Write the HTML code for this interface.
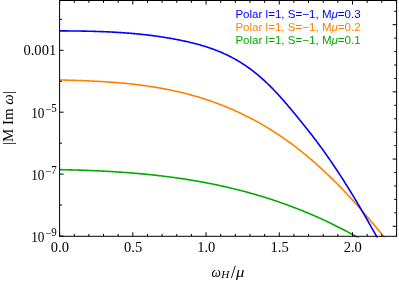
<!DOCTYPE html><html><head><meta charset="utf-8"><style>html,body{margin:0;padding:0;background:#fff}body{width:399px;height:281px;overflow:hidden;position:relative}</style></head><body><svg width="399" height="281" viewBox="0 0 399 281" style="position:absolute;left:0;top:0;will-change:transform">
<defs><clipPath id="c"><rect x="59.6" y="0.5" width="337.0" height="237.0"/></clipPath></defs>
<g clip-path="url(#c)" fill="none" stroke-width="1.6" stroke-linejoin="round">
<path d="M59.6 169.62 L60.6 169.64 L61.6 169.66 L62.6 169.68 L63.6 169.70 L64.6 169.73 L65.6 169.75 L66.6 169.77 L67.6 169.80 L68.6 169.82 L69.6 169.85 L70.6 169.87 L71.6 169.90 L72.6 169.93 L73.6 169.95 L74.6 169.98 L75.6 170.01 L76.6 170.04 L77.6 170.07 L78.6 170.10 L79.6 170.13 L80.6 170.17 L81.6 170.20 L82.6 170.23 L83.6 170.27 L84.6 170.31 L85.6 170.34 L86.6 170.38 L87.6 170.42 L88.6 170.45 L89.6 170.49 L90.6 170.53 L91.6 170.57 L92.6 170.62 L93.6 170.66 L94.6 170.70 L95.6 170.75 L96.6 170.79 L97.6 170.84 L98.6 170.88 L99.6 170.93 L100.6 170.98 L101.6 171.03 L102.6 171.08 L103.6 171.13 L104.6 171.18 L105.6 171.24 L106.6 171.29 L107.6 171.34 L108.6 171.40 L109.6 171.46 L110.6 171.51 L111.6 171.57 L112.6 171.63 L113.6 171.69 L114.6 171.75 L115.6 171.82 L116.6 171.88 L117.6 171.95 L118.6 172.01 L119.6 172.08 L120.6 172.15 L121.6 172.21 L122.6 172.28 L123.6 172.36 L124.6 172.43 L125.6 172.50 L126.6 172.57 L127.6 172.65 L128.6 172.73 L129.6 172.80 L130.6 172.88 L131.6 172.96 L132.6 173.04 L133.6 173.13 L134.6 173.21 L135.6 173.29 L136.6 173.38 L137.6 173.47 L138.6 173.55 L139.6 173.64 L140.6 173.73 L141.6 173.83 L142.6 173.92 L143.6 174.01 L144.6 174.11 L145.6 174.21 L146.6 174.30 L147.6 174.40 L148.6 174.50 L149.6 174.61 L150.6 174.71 L151.6 174.81 L152.6 174.92 L153.6 175.03 L154.6 175.14 L155.6 175.25 L156.6 175.36 L157.6 175.47 L158.6 175.58 L159.6 175.70 L160.6 175.82 L161.6 175.93 L162.6 176.05 L163.6 176.18 L164.6 176.30 L165.6 176.42 L166.6 176.55 L167.6 176.67 L168.6 176.80 L169.6 176.93 L170.6 177.06 L171.6 177.20 L172.6 177.33 L173.6 177.47 L174.6 177.60 L175.6 177.74 L176.6 177.88 L177.6 178.02 L178.6 178.17 L179.6 178.31 L180.6 178.46 L181.6 178.61 L182.6 178.76 L183.6 178.91 L184.6 179.06 L185.6 179.22 L186.6 179.37 L187.6 179.53 L188.6 179.69 L189.6 179.85 L190.6 180.01 L191.6 180.18 L192.6 180.34 L193.6 180.51 L194.6 180.68 L195.6 180.85 L196.6 181.03 L197.6 181.20 L198.6 181.38 L199.6 181.56 L200.6 181.74 L201.6 181.92 L202.6 182.10 L203.6 182.29 L204.6 182.47 L205.6 182.66 L206.6 182.85 L207.6 183.04 L208.6 183.24 L209.6 183.43 L210.6 183.63 L211.6 183.83 L212.6 184.03 L213.6 184.24 L214.6 184.44 L215.6 184.65 L216.6 184.86 L217.6 185.07 L218.6 185.28 L219.6 185.50 L220.6 185.71 L221.6 185.93 L222.6 186.15 L223.6 186.37 L224.6 186.60 L225.6 186.82 L226.6 187.05 L227.6 187.28 L228.6 187.52 L229.6 187.75 L230.6 187.99 L231.6 188.22 L232.6 188.46 L233.6 188.71 L234.6 188.95 L235.6 189.20 L236.6 189.45 L237.6 189.70 L238.6 189.95 L239.6 190.20 L240.6 190.46 L241.6 190.72 L242.6 190.98 L243.6 191.24 L244.6 191.51 L245.6 191.78 L246.6 192.05 L247.6 192.32 L248.6 192.59 L249.6 192.87 L250.6 193.15 L251.6 193.43 L252.6 193.71 L253.6 193.99 L254.6 194.28 L255.6 194.57 L256.6 194.86 L257.6 195.16 L258.6 195.45 L259.6 195.75 L260.6 196.05 L261.6 196.35 L262.6 196.66 L263.6 196.97 L264.6 197.28 L265.6 197.59 L266.6 197.90 L267.6 198.22 L268.6 198.54 L269.6 198.86 L270.6 199.18 L271.6 199.51 L272.6 199.84 L273.6 200.17 L274.6 200.50 L275.6 200.84 L276.6 201.17 L277.6 201.51 L278.6 201.86 L279.6 202.20 L280.6 202.55 L281.6 202.90 L282.6 203.25 L283.6 203.61 L284.6 203.97 L285.6 204.33 L286.6 204.69 L287.6 205.05 L288.6 205.42 L289.6 205.79 L290.6 206.16 L291.6 206.54 L292.6 206.92 L293.6 207.30 L294.6 207.68 L295.6 208.06 L296.6 208.45 L297.6 208.84 L298.6 209.24 L299.6 209.63 L300.6 210.03 L301.6 210.43 L302.6 210.84 L303.6 211.24 L304.6 211.65 L305.6 212.06 L306.6 212.48 L307.6 212.89 L308.6 213.31 L309.6 213.74 L310.6 214.16 L311.6 214.59 L312.6 215.02 L313.6 215.45 L314.6 215.89 L315.6 216.33 L316.6 216.77 L317.6 217.21 L318.6 217.66 L319.6 218.11 L320.6 218.56 L321.6 219.02 L322.6 219.47 L323.6 219.93 L324.6 220.40 L325.6 220.87 L326.6 221.33 L327.6 221.81 L328.6 222.28 L329.6 222.76 L330.6 223.24 L331.6 223.72 L332.6 224.21 L333.6 224.70 L334.6 225.19 L335.6 225.69 L336.6 226.19 L337.6 226.69 L338.6 227.19 L339.6 227.70 L340.6 228.21 L341.6 228.72 L342.6 229.24 L343.6 229.76 L344.6 230.28 L345.6 230.81 L346.6 231.33 L347.6 231.86 L348.6 232.40 L349.6 232.94 L350.6 233.48 L351.6 234.02 L352.6 234.57 L353.6 235.12 L354.6 235.67 L355.6 236.22 L356.6 236.78 L357.6 237.34 L358.6 237.91 L359.6 238.48 L360.6 239.05 L361.6 239.62 L362.6 240.20 L363.6 240.78 L364.6 241.36 L365.6 241.95 L366.6 242.54" stroke="#00aa00"/>
<path d="M59.6 79.95 L60.6 79.97 L61.6 80.00 L62.6 80.02 L63.6 80.05 L64.6 80.07 L65.6 80.10 L66.6 80.13 L67.6 80.16 L68.6 80.18 L69.6 80.21 L70.6 80.24 L71.6 80.27 L72.6 80.30 L73.6 80.34 L74.6 80.37 L75.6 80.40 L76.6 80.43 L77.6 80.47 L78.6 80.50 L79.6 80.54 L80.6 80.57 L81.6 80.61 L82.6 80.65 L83.6 80.69 L84.6 80.73 L85.6 80.77 L86.6 80.81 L87.6 80.85 L88.6 80.90 L89.6 80.94 L90.6 80.99 L91.6 81.03 L92.6 81.08 L93.6 81.13 L94.6 81.18 L95.6 81.23 L96.6 81.28 L97.6 81.34 L98.6 81.39 L99.6 81.45 L100.6 81.50 L101.6 81.56 L102.6 81.62 L103.6 81.68 L104.6 81.74 L105.6 81.81 L106.6 81.87 L107.6 81.94 L108.6 82.01 L109.6 82.08 L110.6 82.15 L111.6 82.22 L112.6 82.30 L113.6 82.37 L114.6 82.45 L115.6 82.53 L116.6 82.61 L117.6 82.69 L118.6 82.78 L119.6 82.86 L120.6 82.95 L121.6 83.04 L122.6 83.13 L123.6 83.22 L124.6 83.32 L125.6 83.42 L126.6 83.51 L127.6 83.61 L128.6 83.72 L129.6 83.82 L130.6 83.93 L131.6 84.04 L132.6 84.15 L133.6 84.26 L134.6 84.37 L135.6 84.49 L136.6 84.61 L137.6 84.73 L138.6 84.85 L139.6 84.98 L140.6 85.11 L141.6 85.24 L142.6 85.37 L143.6 85.50 L144.6 85.64 L145.6 85.78 L146.6 85.92 L147.6 86.06 L148.6 86.21 L149.6 86.36 L150.6 86.51 L151.6 86.66 L152.6 86.82 L153.6 86.98 L154.6 87.14 L155.6 87.31 L156.6 87.47 L157.6 87.64 L158.6 87.81 L159.6 87.99 L160.6 88.16 L161.6 88.34 L162.6 88.53 L163.6 88.71 L164.6 88.90 L165.6 89.09 L166.6 89.29 L167.6 89.48 L168.6 89.68 L169.6 89.89 L170.6 90.09 L171.6 90.30 L172.6 90.51 L173.6 90.73 L174.6 90.94 L175.6 91.16 L176.6 91.39 L177.6 91.61 L178.6 91.84 L179.6 92.08 L180.6 92.31 L181.6 92.55 L182.6 92.80 L183.6 93.04 L184.6 93.29 L185.6 93.55 L186.6 93.80 L187.6 94.06 L188.6 94.32 L189.6 94.59 L190.6 94.86 L191.6 95.13 L192.6 95.41 L193.6 95.69 L194.6 95.97 L195.6 96.26 L196.6 96.55 L197.6 96.84 L198.6 97.14 L199.6 97.44 L200.6 97.75 L201.6 98.06 L202.6 98.37 L203.6 98.69 L204.6 99.01 L205.6 99.33 L206.6 99.66 L207.6 99.99 L208.6 100.32 L209.6 100.66 L210.6 101.01 L211.6 101.35 L212.6 101.70 L213.6 102.06 L214.6 102.42 L215.6 102.78 L216.6 103.15 L217.6 103.52 L218.6 103.89 L219.6 104.27 L220.6 104.66 L221.6 105.04 L222.6 105.44 L223.6 105.83 L224.6 106.23 L225.6 106.64 L226.6 107.05 L227.6 107.46 L228.6 107.88 L229.6 108.30 L230.6 108.72 L231.6 109.15 L232.6 109.59 L233.6 110.03 L234.6 110.47 L235.6 110.92 L236.6 111.37 L237.6 111.83 L238.6 112.29 L239.6 112.76 L240.6 113.23 L241.6 113.71 L242.6 114.19 L243.6 114.67 L244.6 115.16 L245.6 115.66 L246.6 116.16 L247.6 116.66 L248.6 117.17 L249.6 117.68 L250.6 118.20 L251.6 118.73 L252.6 119.26 L253.6 119.79 L254.6 120.33 L255.6 120.87 L256.6 121.42 L257.6 121.97 L258.6 122.53 L259.6 123.10 L260.6 123.66 L261.6 124.24 L262.6 124.82 L263.6 125.40 L264.6 125.99 L265.6 126.58 L266.6 127.18 L267.6 127.79 L268.6 128.40 L269.6 129.02 L270.6 129.64 L271.6 130.26 L272.6 130.89 L273.6 131.53 L274.6 132.17 L275.6 132.82 L276.6 133.48 L277.6 134.14 L278.6 134.80 L279.6 135.47 L280.6 136.15 L281.6 136.83 L282.6 137.51 L283.6 138.21 L284.6 138.90 L285.6 139.61 L286.6 140.32 L287.6 141.03 L288.6 141.76 L289.6 142.48 L290.6 143.21 L291.6 143.95 L292.6 144.70 L293.6 145.45 L294.6 146.20 L295.6 146.97 L296.6 147.74 L297.6 148.51 L298.6 149.29 L299.6 150.08 L300.6 150.87 L301.6 151.67 L302.6 152.47 L303.6 153.28 L304.6 154.09 L305.6 154.92 L306.6 155.74 L307.6 156.58 L308.6 157.42 L309.6 158.26 L310.6 159.11 L311.6 159.97 L312.6 160.83 L313.6 161.70 L314.6 162.58 L315.6 163.46 L316.6 164.34 L317.6 165.23 L318.6 166.13 L319.6 167.04 L320.6 167.95 L321.6 168.86 L322.6 169.78 L323.6 170.71 L324.6 171.64 L325.6 172.58 L326.6 173.53 L327.6 174.48 L328.6 175.44 L329.6 176.40 L330.6 177.37 L331.6 178.34 L332.6 179.32 L333.6 180.31 L334.6 181.30 L335.6 182.30 L336.6 183.30 L337.6 184.31 L338.6 185.32 L339.6 186.34 L340.6 187.37 L341.6 188.40 L342.6 189.44 L343.6 190.48 L344.6 191.53 L345.6 192.59 L346.6 193.65 L347.6 194.72 L348.6 195.79 L349.6 196.87 L350.6 197.95 L351.6 199.04 L352.6 200.14 L353.6 201.24 L354.6 202.34 L355.6 203.46 L356.6 204.57 L357.6 205.70 L358.6 206.82 L359.6 207.96 L360.6 209.09 L361.6 210.24 L362.6 211.38 L363.6 212.54 L364.6 213.69 L365.6 214.86 L366.6 216.02 L367.6 217.20 L368.6 218.37 L369.6 219.55 L370.6 220.74 L371.6 221.93 L372.6 223.13 L373.6 224.32 L374.6 225.53 L375.6 226.74 L376.6 227.95 L377.6 229.16 L378.6 230.39 L379.6 231.61 L380.6 232.84 L381.6 234.07 L382.6 235.31 L383.6 236.55 L384.6 237.79 L385.6 239.04 L386.6 240.29 L387.6 241.55 L388.6 242.80" stroke="#ff8000"/>
<path d="M59.6 30.88 L60.6 30.89 L61.6 30.89 L62.6 30.89 L63.6 30.90 L64.6 30.90 L65.6 30.91 L66.6 30.92 L67.6 30.92 L68.6 30.93 L69.6 30.94 L70.6 30.95 L71.6 30.96 L72.6 30.97 L73.6 30.98 L74.6 30.99 L75.6 31.00 L76.6 31.01 L77.6 31.03 L78.6 31.04 L79.6 31.05 L80.6 31.07 L81.6 31.09 L82.6 31.10 L83.6 31.12 L84.6 31.14 L85.6 31.16 L86.6 31.18 L87.6 31.20 L88.6 31.22 L89.6 31.25 L90.6 31.27 L91.6 31.30 L92.6 31.32 L93.6 31.35 L94.6 31.38 L95.6 31.41 L96.6 31.44 L97.6 31.47 L98.6 31.51 L99.6 31.54 L100.6 31.58 L101.6 31.61 L102.6 31.65 L103.6 31.69 L104.6 31.73 L105.6 31.77 L106.6 31.82 L107.6 31.86 L108.6 31.91 L109.6 31.96 L110.6 32.00 L111.6 32.06 L112.6 32.11 L113.6 32.16 L114.6 32.22 L115.6 32.27 L116.6 32.33 L117.6 32.39 L118.6 32.45 L119.6 32.51 L120.6 32.58 L121.6 32.65 L122.6 32.71 L123.6 32.78 L124.6 32.85 L125.6 32.93 L126.6 33.00 L127.6 33.08 L128.6 33.16 L129.6 33.24 L130.6 33.32 L131.6 33.40 L132.6 33.49 L133.6 33.58 L134.6 33.67 L135.6 33.76 L136.6 33.85 L137.6 33.95 L138.6 34.05 L139.6 34.15 L140.6 34.25 L141.6 34.36 L142.6 34.46 L143.6 34.57 L144.6 34.68 L145.6 34.79 L146.6 34.91 L147.6 35.03 L148.6 35.15 L149.6 35.27 L150.6 35.39 L151.6 35.52 L152.6 35.65 L153.6 35.78 L154.6 35.91 L155.6 36.05 L156.6 36.19 L157.6 36.33 L158.6 36.47 L159.6 36.62 L160.6 36.77 L161.6 36.92 L162.6 37.07 L163.6 37.23 L164.6 37.39 L165.6 37.55 L166.6 37.71 L167.6 37.88 L168.6 38.05 L169.6 38.22 L170.6 38.39 L171.6 38.57 L172.6 38.75 L173.6 38.93 L174.6 39.12 L175.6 39.31 L176.6 39.50 L177.6 39.70 L178.6 39.89 L179.6 40.09 L180.6 40.30 L181.6 40.50 L182.6 40.71 L183.6 40.93 L184.6 41.14 L185.6 41.36 L186.6 41.58 L187.6 41.81 L188.6 42.04 L189.6 42.27 L190.6 42.50 L191.6 42.75 L192.6 42.99 L193.6 43.24 L194.6 43.49 L195.6 43.75 L196.6 44.01 L197.6 44.28 L198.6 44.55 L199.6 44.83 L200.6 45.11 L201.6 45.40 L202.6 45.70 L203.6 46.00 L204.6 46.30 L205.6 46.61 L206.6 46.93 L207.6 47.25 L208.6 47.59 L209.6 47.92 L210.6 48.27 L211.6 48.62 L212.6 48.98 L213.6 49.34 L214.6 49.71 L215.6 50.09 L216.6 50.48 L217.6 50.88 L218.6 51.28 L219.6 51.69 L220.6 52.11 L221.6 52.54 L222.6 52.97 L223.6 53.42 L224.6 53.87 L225.6 54.33 L226.6 54.81 L227.6 55.29 L228.6 55.78 L229.6 56.28 L230.6 56.79 L231.6 57.31 L232.6 57.84 L233.6 58.37 L234.6 58.92 L235.6 59.48 L236.6 60.05 L237.6 60.64 L238.6 61.23 L239.6 61.83 L240.6 62.44 L241.6 63.07 L242.6 63.71 L243.6 64.35 L244.6 65.01 L245.6 65.68 L246.6 66.37 L247.6 67.06 L248.6 67.77 L249.6 68.49 L250.6 69.22 L251.6 69.97 L252.6 70.73 L253.6 71.50 L254.6 72.28 L255.6 73.08 L256.6 73.89 L257.6 74.72 L258.6 75.56 L259.6 76.41 L260.6 77.27 L261.6 78.15 L262.6 79.05 L263.6 79.95 L264.6 80.87 L265.6 81.80 L266.6 82.75 L267.6 83.71 L268.6 84.68 L269.6 85.66 L270.6 86.65 L271.6 87.66 L272.6 88.68 L273.6 89.71 L274.6 90.75 L275.6 91.80 L276.6 92.87 L277.6 93.94 L278.6 95.03 L279.6 96.13 L280.6 97.23 L281.6 98.35 L282.6 99.48 L283.6 100.61 L284.6 101.76 L285.6 102.92 L286.6 104.08 L287.6 105.25 L288.6 106.43 L289.6 107.62 L290.6 108.80 L291.6 110.00 L292.6 111.20 L293.6 112.40 L294.6 113.60 L295.6 114.81 L296.6 116.02 L297.6 117.24 L298.6 118.46 L299.6 119.68 L300.6 120.91 L301.6 122.15 L302.6 123.39 L303.6 124.63 L304.6 125.89 L305.6 127.14 L306.6 128.40 L307.6 129.67 L308.6 130.95 L309.6 132.23 L310.6 133.51 L311.6 134.81 L312.6 136.11 L313.6 137.41 L314.6 138.73 L315.6 140.05 L316.6 141.38 L317.6 142.71 L318.6 144.06 L319.6 145.41 L320.6 146.77 L321.6 148.14 L322.6 149.51 L323.6 150.90 L324.6 152.29 L325.6 153.70 L326.6 155.11 L327.6 156.53 L328.6 157.96 L329.6 159.40 L330.6 160.85 L331.6 162.31 L332.6 163.78 L333.6 165.26 L334.6 166.75 L335.6 168.24 L336.6 169.75 L337.6 171.27 L338.6 172.79 L339.6 174.32 L340.6 175.87 L341.6 177.42 L342.6 178.98 L343.6 180.54 L344.6 182.12 L345.6 183.71 L346.6 185.30 L347.6 186.90 L348.6 188.51 L349.6 190.13 L350.6 191.75 L351.6 193.38 L352.6 195.03 L353.6 196.67 L354.6 198.33 L355.6 199.99 L356.6 201.66 L357.6 203.34 L358.6 205.03 L359.6 206.72 L360.6 208.42 L361.6 210.13 L362.6 211.84 L363.6 213.56 L364.6 215.29 L365.6 217.02 L366.6 218.76 L367.6 220.51 L368.6 222.26 L369.6 224.02 L370.6 225.79 L371.6 227.56 L372.6 229.34 L373.6 231.12 L374.6 232.91 L375.6 234.71 L376.6 236.51 L377.6 238.32 L378.6 240.13 L379.6 241.95 L380.6 243.77" stroke="#0000ff"/>
</g>
<rect x="59.6" y="0.5" width="337.0" height="235.8" fill="none" stroke="#000" stroke-width="1"/>
<path d="M59.60 236.30 v-4.00 M59.60 0.50 v4.00 M74.25 236.30 v-2.40 M74.25 0.50 v2.40 M88.89 236.30 v-2.40 M88.89 0.50 v2.40 M103.53 236.30 v-2.40 M103.53 0.50 v2.40 M118.18 236.30 v-2.40 M118.18 0.50 v2.40 M132.82 236.30 v-4.00 M132.82 0.50 v4.00 M147.47 236.30 v-2.40 M147.47 0.50 v2.40 M162.11 236.30 v-2.40 M162.11 0.50 v2.40 M176.76 236.30 v-2.40 M176.76 0.50 v2.40 M191.41 236.30 v-2.40 M191.41 0.50 v2.40 M206.05 236.30 v-4.00 M206.05 0.50 v4.00 M220.69 236.30 v-2.40 M220.69 0.50 v2.40 M235.34 236.30 v-2.40 M235.34 0.50 v2.40 M249.98 236.30 v-2.40 M249.98 0.50 v2.40 M264.63 236.30 v-2.40 M264.63 0.50 v2.40 M279.27 236.30 v-4.00 M279.27 0.50 v4.00 M293.92 236.30 v-2.40 M293.92 0.50 v2.40 M308.56 236.30 v-2.40 M308.56 0.50 v2.40 M323.21 236.30 v-2.40 M323.21 0.50 v2.40 M337.85 236.30 v-2.40 M337.85 0.50 v2.40 M352.50 236.30 v-4.00 M352.50 0.50 v4.00 M367.15 236.30 v-2.40 M367.15 0.50 v2.40 M381.79 236.30 v-2.40 M381.79 0.50 v2.40 M396.43 236.30 v-2.40 M396.43 0.50 v2.40 M59.60 236.00 h4.00 M59.60 205.05 h2.40 M59.60 174.10 h4.00 M59.60 143.15 h2.40 M59.60 112.20 h4.00 M59.60 81.25 h2.40 M59.60 50.30 h4.00 M59.60 19.35 h2.40 M396.60 226.28 h-4.00 M396.60 212.84 h-2.40 M396.60 199.40 h-2.40 M396.60 185.95 h-2.40 M396.60 172.51 h-2.40 M396.60 159.07 h-4.00 M396.60 145.63 h-2.40 M396.60 132.19 h-2.40 M396.60 118.75 h-2.40 M396.60 105.31 h-2.40 M396.60 91.86 h-4.00 M396.60 78.42 h-2.40 M396.60 64.98 h-2.40 M396.60 51.54 h-2.40 M396.60 38.10 h-2.40 M396.60 24.66 h-4.00 M396.60 11.22 h-2.40" stroke="#000" stroke-width="1" fill="none"/>
<g font-family="Liberation Serif, serif" font-size="14" fill="#000">
<text transform="translate(59.9,252) scale(1.04,1)" text-anchor="middle">0.0</text>
<text transform="translate(133.1,252) scale(1.04,1)" text-anchor="middle">0.5</text>
<text transform="translate(206.3,252) scale(1.04,1)" text-anchor="middle">1.0</text>
<text transform="translate(279.6,252) scale(1.04,1)" text-anchor="middle">1.5</text>
<text transform="translate(352.8,252) scale(1.04,1)" text-anchor="middle">2.0</text>
<text transform="translate(56.2,55.1) scale(1.04,1)" text-anchor="end">0.001</text>
<text transform="translate(44.4,117.8) scale(0.945,1)" text-anchor="end">10</text>
<text transform="translate(44.9,112.8) scale(1.04,1)" font-size="11">−</text>
<text transform="translate(51.2,111.9) scale(1.0,1.12)" font-size="11">5</text>
<text transform="translate(44.4,179.8) scale(0.945,1)" text-anchor="end">10</text>
<text transform="translate(44.9,174.7) scale(1.04,1)" font-size="11">−</text>
<text transform="translate(51.2,173.8) scale(1.0,1.12)" font-size="11">7</text>
<text transform="translate(44.4,241.7) scale(0.945,1)" text-anchor="end">10</text>
<text transform="translate(44.9,236.6) scale(1.04,1)" font-size="11">−</text>
<text transform="translate(51.2,235.8) scale(1.0,1.12)" font-size="11">9</text>
<text transform="translate(211.6,276.7) scale(0.95,1)" font-style="italic">ω</text>
<text transform="translate(221.3,278.0) scale(1.12,1)" font-style="italic" font-size="10">H</text>
<path d="M231.4 278.0 L235.3 265.7" stroke="#000" stroke-width="0.9" fill="none"/>
<text transform="translate(236.1,276.7) scale(1.19,1)" font-style="italic">μ</text>
<text transform="translate(12.8,118.0) rotate(-90) scale(1.065,1)" text-anchor="middle">|M Im <tspan font-style="italic">ω</tspan>|</text>
</g>
<g font-family="Liberation Sans, sans-serif" font-size="10.9">
<text transform="translate(235.4,18.0) scale(1.062,1)" fill="#0000ff">Polar l=1, S=−1, M<tspan font-style="italic">μ</tspan>=0.3</text>
<text transform="translate(235.4,30.8) scale(1.062,1)" fill="#ff8000">Polar l=1, S=−1, M<tspan font-style="italic">μ</tspan>=0.2</text>
<text transform="translate(235.4,43.5) scale(1.062,1)" fill="#00aa00">Polar l=1, S=−1, M<tspan font-style="italic">μ</tspan>=0.1</text>
</g>
</svg></body></html>
